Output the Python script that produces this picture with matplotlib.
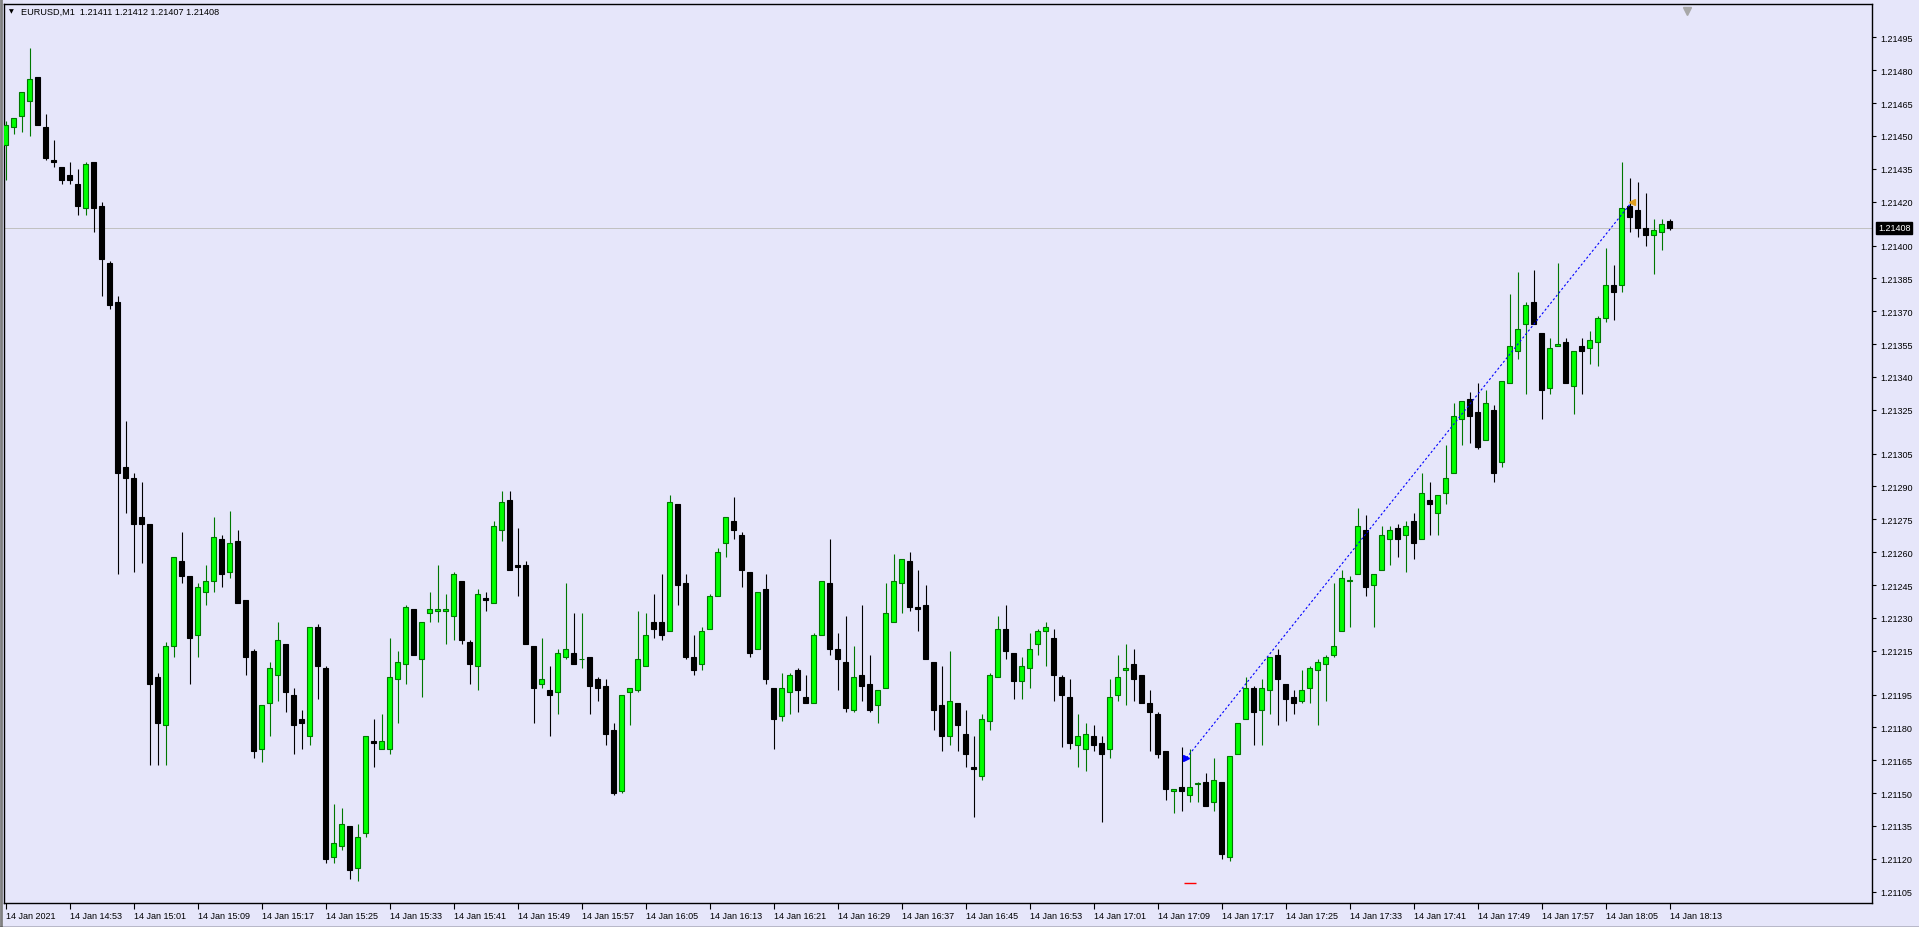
import matplotlib
matplotlib.use("Agg")
import numpy as np
import matplotlib.pyplot as plt
import matplotlib.transforms as mtransforms

plt.rcParams["font.family"] = ["Liberation Sans", "DejaVu Sans"]

# EURUSD M1 candles, 14 Jan 2021 14:45 .. 18:13
# values are the last three digits of the price: 446 -> 1.21446
open_pts = [
    446, 454, 459, 466, 477, 454, 439, 436, 432, 428, 417, 438, 418, 392, 374, 299,
    294, 276, 273, 203, 181, 217, 256, 249, 222, 242, 247, 266, 251, 265, 238, 215,
    170, 191, 204, 218, 195, 184, 176, 226, 207, 121, 126, 135, 116, 132, 174, 170,
    170, 202, 209, 234, 211, 232, 233, 233, 231, 247, 219, 208, 239, 237, 270, 284,
    254, 254, 217, 200, 197, 196, 212, 214, 211, 212, 202, 199, 179, 151, 196, 197,
    208, 228, 228, 224, 282, 246, 212, 209, 225, 240, 264, 274, 268, 251, 216, 243,
    198, 185, 196, 206, 194, 191, 222, 246, 216, 210, 188, 204, 200, 190, 198, 228,
    246, 256, 235, 236, 210, 190, 176, 191, 177, 162, 158, 183, 203, 225, 214, 201,
    207, 218, 224, 221, 203, 194, 172, 170, 176, 173, 170, 195, 206, 209, 204, 191,
    186, 169, 151, 153, 149, 154, 155, 146, 155, 121, 168, 184, 198, 188, 197, 213,
    200, 194, 192, 198, 206, 209, 213, 224, 247, 250, 270, 245, 252, 266, 271, 268,
    274, 266, 284, 278, 287, 296, 321, 330, 324, 311, 325, 301, 337, 352, 364, 374,
    360, 335, 354, 356, 336, 354, 353, 356, 367, 382, 382, 418, 416, 408, 405, 406,
    411,
]
high_pts = [
    457, 458, 470, 490, 477, 460, 448, 436, 438, 435, 438, 438, 420, 393, 377, 320,
    296, 292, 273, 205, 219, 258, 269, 249, 246, 254, 276, 268, 279, 270, 238, 216,
    190, 210, 228, 218, 198, 188, 226, 227, 208, 145, 143, 135, 136, 176, 184, 186,
    221, 215, 236, 234, 228, 242, 254, 241, 251, 247, 220, 243, 242, 274, 288, 288,
    271, 256, 217, 221, 208, 216, 246, 232, 232, 212, 203, 202, 182, 195, 198, 233,
    232, 241, 250, 286, 282, 250, 222, 226, 241, 262, 276, 285, 269, 251, 242, 250,
    198, 205, 205, 207, 204, 223, 247, 266, 223, 231, 217, 236, 213, 197, 246, 259,
    257, 260, 252, 245, 210, 208, 215, 191, 188, 176, 186, 205, 231, 236, 214, 212,
    223, 225, 228, 225, 204, 202, 186, 182, 181, 176, 202, 213, 218, 216, 204, 197,
    187, 169, 152, 171, 170, 155, 159, 166, 155, 167, 182, 203, 199, 202, 212, 216,
    200, 197, 206, 208, 211, 213, 246, 252, 249, 280, 277, 250, 272, 272, 273, 274,
    278, 296, 292, 286, 309, 328, 329, 333, 337, 334, 327, 338, 378, 388, 374, 389,
    360, 358, 392, 358, 352, 358, 361, 368, 399, 391, 438, 431, 429, 424, 412, 412,
    412,
]
low_pts = [
    430, 451, 452, 450, 455, 439, 436, 428, 428, 414, 414, 406, 377, 371, 250, 278,
    251, 255, 163, 163, 163, 212, 246, 200, 212, 236, 242, 244, 248, 237, 204, 166,
    164, 176, 192, 187, 168, 170, 172, 193, 118, 118, 124, 111, 110, 130, 162, 170,
    168, 182, 200, 213, 194, 228, 228, 218, 220, 218, 200, 197, 233, 237, 265, 252,
    240, 218, 182, 198, 176, 186, 211, 209, 207, 186, 192, 172, 149, 150, 181, 196,
    208, 221, 220, 224, 236, 211, 204, 206, 225, 240, 258, 266, 244, 212, 216, 200,
    170, 183, 186, 187, 191, 191, 222, 213, 197, 187, 187, 192, 187, 182, 198, 228,
    232, 233, 224, 211, 179, 169, 172, 169, 162, 139, 156, 179, 203, 211, 193, 193,
    198, 213, 208, 192, 171, 170, 162, 160, 169, 137, 166, 192, 190, 192, 191, 169,
    166, 147, 141, 142, 146, 146, 144, 142, 120, 119, 168, 184, 172, 172, 186, 181,
    183, 186, 191, 191, 181, 192, 212, 224, 226, 250, 240, 226, 252, 254, 258, 251,
    257, 266, 268, 268, 282, 296, 309, 310, 307, 311, 292, 299, 337, 348, 332, 364,
    321, 332, 354, 337, 323, 332, 346, 345, 365, 366, 379, 406, 404, 400, 387, 398,
    407,
]
close_pts = [
    455, 458, 470, 476, 455, 440, 438, 430, 430, 418, 437, 417, 394, 373, 296, 294,
    273, 273, 200, 182, 217, 258, 249, 221, 244, 247, 267, 250, 264, 237, 212, 169,
    190, 207, 220, 196, 181, 182, 226, 208, 120, 127, 136, 115, 130, 176, 173, 174,
    203, 210, 235, 213, 228, 234, 234, 234, 250, 220, 209, 241, 238, 272, 283, 252,
    253, 218, 198, 202, 195, 214, 216, 209, 211, 199, 198, 177, 150, 195, 198, 211,
    222, 225, 222, 283, 245, 212, 206, 224, 240, 260, 276, 270, 252, 214, 242, 202,
    184, 198, 204, 197, 191, 222, 247, 216, 211, 189, 203, 199, 188, 197, 232, 247,
    257, 235, 234, 211, 188, 176, 192, 181, 168, 161, 184, 204, 225, 215, 201, 208,
    216, 224, 226, 204, 195, 173, 176, 177, 172, 168, 194, 203, 207, 202, 191, 187,
    168, 152, 152, 151, 153, 154, 144, 156, 122, 167, 182, 198, 187, 198, 212, 202,
    193, 191, 197, 207, 210, 212, 217, 248, 247, 272, 244, 250, 268, 270, 266, 272,
    264, 287, 282, 286, 294, 322, 329, 322, 308, 328, 296, 338, 354, 362, 373, 364,
    334, 353, 355, 337, 352, 352, 357, 367, 382, 379, 417, 413, 408, 405, 407, 410,
    408,
]

xtick_labels = [
    "14 Jan 2021", "14 Jan 14:53", "14 Jan 15:01", "14 Jan 15:09", "14 Jan 15:17",
    "14 Jan 15:25", "14 Jan 15:33", "14 Jan 15:41", "14 Jan 15:49", "14 Jan 15:57",
    "14 Jan 16:05", "14 Jan 16:13", "14 Jan 16:21", "14 Jan 16:29", "14 Jan 16:37",
    "14 Jan 16:45", "14 Jan 16:53", "14 Jan 17:01", "14 Jan 17:09", "14 Jan 17:17",
    "14 Jan 17:25", "14 Jan 17:33", "14 Jan 17:41", "14 Jan 17:49", "14 Jan 17:57",
    "14 Jan 18:05", "14 Jan 18:13",
]
ytick_values = [
    1.21495, 1.21480, 1.21465, 1.21450, 1.21435, 1.21420, 1.21400, 1.21385,
    1.21370, 1.21355, 1.21340, 1.21325, 1.21305, 1.21290, 1.21275, 1.21260,
    1.21245, 1.21230, 1.21215, 1.21195, 1.21180, 1.21165, 1.21150, 1.21135,
    1.21120, 1.21105,
]
bid = 1.21408
title = "EURUSD,M1  1.21411 1.21412 1.21407 1.21408"

# trade marks: entry at bar 148, exit at bar 203
trade_x = [147.6, 203.3]
trade_y = [1.21166, 1.21420]
stop_x, stop_y = 148.1, 1.21109

o = 1.21 + np.array(open_pts) / 1e5
h = 1.21 + np.array(high_pts) / 1e5
l = 1.21 + np.array(low_pts) / 1e5
c = 1.21 + np.array(close_pts) / 1e5
x = np.arange(len(o))

BG = "#E6E6FA"
W, H = 1919, 928
fig = plt.figure(figsize=(W / 100, H / 100), dpi=100, facecolor=BG)
ax = fig.add_axes([4 / W, (H - 903.6) / H, (1872 - 4) / W, (903.6 - 4.7) / H])
ax.set_facecolor(BG)

up = c >= o
bull_edge = "#007800"

# wicks
ax.vlines(x[up], l[up], h[up], color=bull_edge, lw=0.8, zorder=2)
ax.vlines(x[~up], l[~up], h[~up], color="black", lw=0.8, zorder=2)

# bodies
body_lo = np.minimum(o, c)
body_h = np.maximum(np.abs(c - o), 0.000004)
ax.bar(x[up], body_h[up], bottom=body_lo[up], width=0.62,
       color="#00FF00", edgecolor=bull_edge, lw=0.8, zorder=3)
ax.bar(x[~up], body_h[~up], bottom=body_lo[~up], width=0.62,
       color="black", edgecolor="black", lw=0.8, zorder=3)

# bid line
ax.axhline(bid, color="#C0C0C0", lw=0.7, zorder=1)

# trade line and markers
ax.plot(trade_x, trade_y, color="#0000FF", lw=0.8, ls=(0, (2, 2)), zorder=4)
ax.plot(trade_x[0], trade_y[0], marker=">", color="#0000FF", ms=5, zorder=5)
ax.plot(trade_x[1], trade_y[1], marker="<", color="#E0A020", ms=4, zorder=5)
ax.plot(stop_x, stop_y, marker="_", color="red", ms=8, mew=1, zorder=5)

ax.set_xlim(-0.19, 233.3)
ax.set_ylim(1.21100, 1.215104)

# chart shift marker
ax.plot(210.2, 1.21507, marker="v", color="#A8A8A8", ms=6, clip_on=False)

ax.set_xticks(np.arange(0, len(xtick_labels) * 8, 8))
ax.set_xticklabels(xtick_labels, fontsize=6.5)
for lbl in ax.get_xticklabels():
    lbl.set_ha("left")
ax.tick_params(axis="x", direction="out", length=4, pad=2, width=0.8)

ax.yaxis.tick_right()
ax.set_yticks(ytick_values)
ax.set_yticklabels([f"{v:.5f}" for v in ytick_values], fontsize=6.5)
ax.tick_params(axis="y", direction="out", length=3, pad=3, width=0.8)

for s in ax.spines.values():
    s.set_color("black")
    s.set_linewidth(1)

# current price box on the right scale
trans = mtransforms.blended_transform_factory(ax.transAxes, ax.transData)
ax.text(1.0032, bid, f"{bid:.5f}", transform=trans, fontsize=6.5, color="white",
        ha="left", va="center",
        bbox=dict(boxstyle="square,pad=0.2", fc="black", ec="black"))

# symbol header
fig.text(9 / W, 1 - 12 / H, "\u25BC", fontsize=4.5, va="center", ha="left",
         family=["DejaVu Sans"])
fig.text(20.5 / W, 1 - 12.5 / H, title, fontsize=6.6, va="center", ha="left")

# window edges
fig.add_artist(plt.Line2D([1 / W, 1 / W], [0, 1], color="#808080", lw=2))
fig.add_artist(plt.Line2D([0, 1], [0.5 / H, 0.5 / H], color="black", lw=1))

fig.savefig("out.png", dpi=100, facecolor=BG)
